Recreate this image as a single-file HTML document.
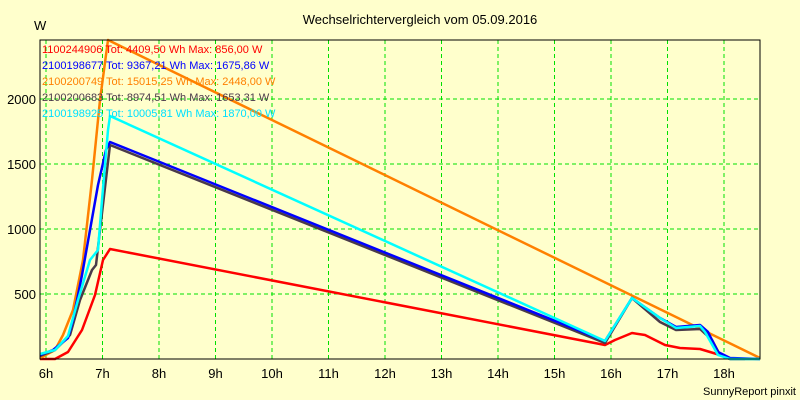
<!DOCTYPE html>
<html><head><meta charset="utf-8"><style>
body{margin:0;background:#ffffcc;}
svg{display:block;font-family:"Liberation Sans",sans-serif;}
</style></head><body>
<svg width="800" height="400" viewBox="0 0 800 400">
<rect width="800" height="400" fill="#ffffcc"/>
<text x="420" y="24" font-size="13" text-anchor="middle">Wechselrichtervergleich vom 05.09.2016</text>
<text x="34" y="30" font-size="13">W</text>
<g stroke="#00e000" stroke-dasharray="4,3" stroke-width="1">
<line x1="46" y1="40" x2="46" y2="359"/><line x1="102.5" y1="40" x2="102.5" y2="359"/><line x1="159" y1="40" x2="159" y2="359"/><line x1="215.5" y1="40" x2="215.5" y2="359"/><line x1="272" y1="40" x2="272" y2="359"/><line x1="328.5" y1="40" x2="328.5" y2="359"/><line x1="385" y1="40" x2="385" y2="359"/><line x1="441.5" y1="40" x2="441.5" y2="359"/><line x1="498" y1="40" x2="498" y2="359"/><line x1="554.5" y1="40" x2="554.5" y2="359"/><line x1="611" y1="40" x2="611" y2="359"/><line x1="667.5" y1="40" x2="667.5" y2="359"/><line x1="724" y1="40" x2="724" y2="359"/>
<line x1="40" y1="294" x2="760" y2="294"/><line x1="40" y1="229" x2="760" y2="229"/><line x1="40" y1="164" x2="760" y2="164"/><line x1="40" y1="99" x2="760" y2="99"/>
</g>
<g font-size="13" text-anchor="end"><text x="36" y="299">500</text><text x="36" y="234">1000</text><text x="36" y="169">1500</text><text x="36" y="104">2000</text></g>
<g font-size="13" text-anchor="middle"><text x="46" y="378">6h</text><text x="102.5" y="378">7h</text><text x="159" y="378">8h</text><text x="215.5" y="378">9h</text><text x="272" y="378">10h</text><text x="328.5" y="378">11h</text><text x="385" y="378">12h</text><text x="441.5" y="378">13h</text><text x="498" y="378">14h</text><text x="554.5" y="378">15h</text><text x="611" y="378">16h</text><text x="667.5" y="378">17h</text><text x="724" y="378">18h</text></g>
<text x="796" y="395" font-size="11" text-anchor="end">SunnyReport pinxit</text>
<g fill="none" stroke-width="2.5" stroke-linejoin="round">
<polyline stroke="#ff0000" points="40,359 55,359 68,352 82,330 95,295 103,260 110,249 605,345 615,340 632,333 645,335 665,345 680,348 700,349 720,355 730,359 745,359"/>
<polyline stroke="#ff8000" points="40,358 55,350 63,335 73,310 83,260 92,180 100,100 108,40 760,358"/>
<polyline stroke="#4a3a4a" points="40,356 55,350 70,335 80,300 92,270 96,265 100,230 110,145 605,343 632,298 660,322 676,330 700,329 712,340 720,355 730,359 760,359"/>
<polyline stroke="#0000ff" points="40,355 53,350 68,338 73,320 82,275 90,230 98,185 106,150 110,142 605,341 632,298 660,318 676,327 700,325 708,332 718,352 730,358 760,359"/>
<polyline stroke="#00ffff" points="40,354 55,350 68,336 78,300 90,260 98,250 102,200 108,130 110,116 605,341 632,298 660,318 676,328 700,326 705,332 718,355 730,359 760,359"/>
</g>
<rect x="40" y="40" width="720" height="319" fill="none" stroke="#000" stroke-width="1"/>
<g font-size="11">
<text x="42" y="53" fill="#ff0000">1100244906 Tot: 4409,50 Wh Max: 856,00 W</text>
<text x="42" y="69" fill="#0000ff">2100198677 Tot: 9367,21 Wh Max: 1675,86 W</text>
<text x="42" y="85" fill="#ff8000">2100200749 Tot: 15015,25 Wh Max: 2448,00 W</text>
<text x="42" y="101" fill="#4a3a4a">2100200683 Tot: 8974,51 Wh Max: 1653,31 W</text>
<text x="42" y="117" fill="#00e0ff">2100198925 Tot: 10005,81 Wh Max: 1870,00 W</text>
</g>
</svg>
</body></html>
